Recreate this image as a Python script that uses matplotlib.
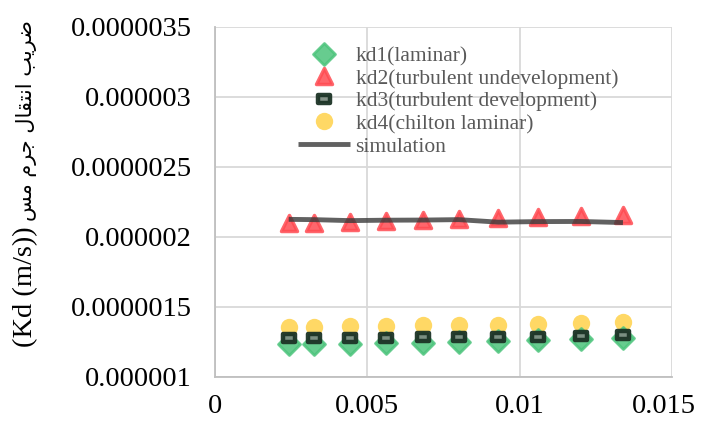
import matplotlib
matplotlib.use("Agg")
import matplotlib.pyplot as plt
from matplotlib.ticker import FixedLocator, FixedFormatter
from matplotlib.markers import MarkerStyle
from matplotlib.transforms import Affine2D, ScaledTranslation

plt.rcParams['font.family'] = ['Liberation Serif', 'DejaVu Sans']

x = [0.00242, 0.00325, 0.00442, 0.0056, 0.00683, 0.0080, 0.0093, 0.0106, 0.0120, 0.01339]
kd1 = [1.234e-6, 1.234e-6, 1.236e-6, 1.242e-6, 1.246e-6, 1.251e-6, 1.254e-6, 1.264e-6, 1.269e-6, 1.278e-6]
kd2 = [2.103e-6, 2.098e-6, 2.110e-6, 2.114e-6, 2.119e-6, 2.126e-6, 2.139e-6, 2.141e-6, 2.150e-6, 2.157e-6]
kd3 = [1.275e-6, 1.275e-6, 1.278e-6, 1.280e-6, 1.285e-6, 1.287e-6, 1.289e-6, 1.289e-6, 1.296e-6, 1.303e-6]
kd4 = [1.355e-6, 1.355e-6, 1.361e-6, 1.364e-6, 1.368e-6, 1.374e-6, 1.374e-6, 1.379e-6, 1.389e-6, 1.394e-6]
simulation = [2.126e-6, 2.124e-6, 2.117e-6, 2.120e-6, 2.121e-6, 2.124e-6, 2.106e-6, 2.110e-6, 2.111e-6, 2.103e-6]

labels = ["kd1(laminar)", "kd2(turbulent undevelopment)", "kd3(turbulent development)",
          "kd4(chilton laminar)", "simulation"]
yticks = [0.000001, 0.0000015, 0.000002, 0.0000025, 0.000003, 0.0000035]
yticklabels = ["0.000001", "0.0000015", "0.000002", "0.0000025", "0.000003", "0.0000035"]
xticks = [0, 0.005, 0.01, 0.015]
xticklabels = ["0", "0.005", "0.01", "0.015"]

# y-axis title: Latin part + Persian part (Persian in visual LTR order with presentation forms)
ylabel_latin = "(Kd (m/s))"
ylabel_persian = "\uFEB2\uFEE3 \uFEE1\uFEAE\uFE9F \uFEDD\uFE8E\uFED8\uFE98\uFEE7\uFE8D \uFE90\uFBFE\uFEAE\uFEBF"

fig = plt.figure(figsize=(7.02, 4.21), dpi=100)
ax = fig.add_axes([215/702, 1 - 377/421, 457/702, 350/421])

tri = MarkerStyle('^', joinstyle='round')
dia = MarkerStyle('D', joinstyle='round')
rect = MarkerStyle('s', joinstyle='round', transform=Affine2D().scale(1.5, 1.0))

ax.plot(x, kd1, linestyle='none', marker=dia, markersize=11.5, color='#4cc47c', alpha=0.85,
        markeredgewidth=2, markeredgecolor='#4cc47c', label=labels[0], zorder=3)
ax.plot(x, kd2, linestyle='none', marker=tri, markersize=11.5, color='#ff4b52', alpha=0.85,
        markeredgewidth=2.5, markeredgecolor='#ff4b52', label=labels[1], zorder=3)
ax.plot(x, kd3, linestyle='none', marker=rect, markersize=5.5, markerfacecolor='#7d8c82',
        markeredgecolor='#1c3326', markeredgewidth=3.2, alpha=0.95, label=labels[2], zorder=4)
ax.plot(x, kd4, linestyle='none', marker='o', markersize=12.5, color='#ffd24a', alpha=0.85,
        markeredgewidth=0, label=labels[3], zorder=2)
ax.plot(x, simulation, color='#3a3a3a', linewidth=3.5, alpha=0.8, label=labels[4], zorder=5,
        solid_capstyle='butt')

ax.set_xlim(0, 0.015)
ax.set_ylim(0.000001, 0.0000035)
ax.yaxis.set_major_locator(FixedLocator(yticks))
ax.yaxis.set_major_formatter(FixedFormatter(yticklabels))
ax.xaxis.set_major_locator(FixedLocator(xticks))
ax.xaxis.set_major_formatter(FixedFormatter(xticklabels))

ax.grid(True, color='#d9d9d9', linewidth=1.3)
ax.set_axisbelow(True)
for s in ['top', 'right']:
    ax.spines[s].set_visible(False)
for s in ['left', 'bottom']:
    ax.spines[s].set_color('#bfbfbf')
    ax.spines[s].set_linewidth(1.3)
ax.tick_params(axis='both', length=0, labelsize=20.5, colors='black')
ax.tick_params(axis='y', pad=16.5)
ax.tick_params(axis='x', pad=12.5)

# keep the last x tick label inside the figure (as in the reference)
last = ax.xaxis.get_major_ticks()[-1].label1
last.set_transform(last.get_transform() + ScaledTranslation(-8/100, 0, fig.dpi_scale_trans))

fig.text(32/702, 1 - 347/421, ylabel_latin, rotation=90, rotation_mode='anchor',
         ha='left', va='baseline', fontsize=20.5)
fig.text(32/702, 1 - 221/421, ylabel_persian, rotation=90, rotation_mode='anchor',
         ha='left', va='baseline', fontsize=15, family='DejaVu Sans')

leg = ax.legend(loc='upper left', bbox_to_anchor=(0.172, 0.958), frameon=False, fontsize=15.5,
                labelspacing=0.12, handlelength=2.4, handletextpad=0.28, borderpad=0.2,
                borderaxespad=0)
for t in leg.get_texts():
    t.set_color('#595959')

fig.savefig("out.png", dpi=100)
